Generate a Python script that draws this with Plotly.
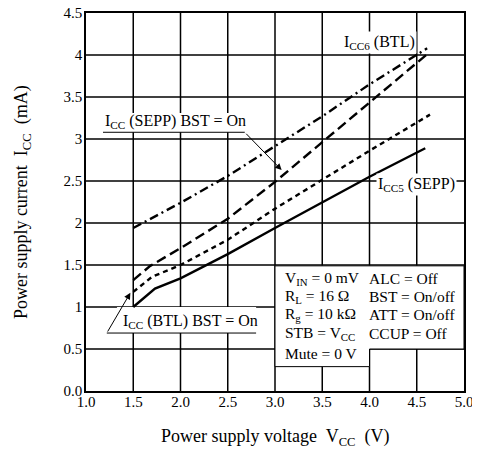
import plotly.graph_objects as go

FONT = "Liberation Serif"

# supply voltage (V) / supply current (mA)
V_SEPP = [1.5, 1.73, 2.0, 2.5, 3.0, 3.5, 4.0, 4.59]
I_SEPP = [1.0, 1.22, 1.34, 1.63, 1.94, 2.24, 2.55, 2.89]

V_BTL_BST = [1.5, 1.7, 2.0, 2.5, 3.0, 3.5, 4.0, 4.64]
I_BTL_BST = [1.18, 1.36, 1.50, 1.80, 2.17, 2.52, 2.86, 3.29]

V_SEPP_BST = [1.5, 1.68, 2.0, 2.5, 3.0, 3.5, 4.0, 4.6]
I_SEPP_BST = [1.32, 1.49, 1.70, 2.05, 2.49, 2.96, 3.43, 4.0]

V_BTL = [1.5, 2.0, 2.5, 3.0, 3.5, 4.0, 4.61]
I_BTL = [1.94, 2.24, 2.56, 2.92, 3.27, 3.65, 4.08]

X_TICKS = [1.0, 1.5, 2.0, 2.5, 3.0, 3.5, 4.0, 4.5, 5.0]
Y_TICKS = [0, 0.5, 1, 1.5, 2, 2.5, 3, 3.5, 4, 4.5]
Y_TICK_TEXT = ["0.0", "0.5", "1", "1.5", "2", "2.5", "3", "3.5", "4", "4.5"]

COND_LEFT = ["V<sub>IN</sub> = 0 mV", "R<sub>L</sub> = 16 Ω", "R<sub>g</sub> = 10 kΩ",
             "STB = V<sub>CC</sub>", "Mute = 0 V"]
COND_RIGHT = ["ALC = Off", "BST = On/off", "ATT = On/off", "CCUP = Off"]
COND_Y = [1.345, 1.12, 0.905, 0.68, 0.45]

X_RANGE = [X_TICKS[0], X_TICKS[-1]]
Y_RANGE = [Y_TICKS[0], Y_TICKS[-1]]

fig = go.Figure()

# grid as line traces, so white label patches (later traces) can cover it
for xv in X_TICKS[1:-1]:
    fig.add_trace(go.Scatter(x=[xv, xv], y=Y_RANGE, mode="lines", hoverinfo="skip",
                             line=dict(color="black", width=1.5)))
for yv in Y_TICKS[1:-1]:
    fig.add_trace(go.Scatter(x=X_RANGE, y=[yv, yv], mode="lines", hoverinfo="skip",
                             line=dict(color="black", width=1.5)))

# white patches behind the leader labels
fig.add_trace(go.Scatter(x=[1.18, 2.68, 2.68, 1.18, 1.18], y=[3.08, 3.08, 3.31, 3.31, 3.08],
                         mode="lines", fill="toself", fillcolor="white",
                         line=dict(width=0, color="white"), hoverinfo="skip"))
fig.add_trace(go.Scatter(x=[1.22, 1.33, 2.80, 2.80, 1.22], y=[0.69, 1.0, 1.0, 0.69, 0.69],
                         mode="lines", fill="toself", fillcolor="white",
                         line=dict(width=0, color="white"), hoverinfo="skip"))
# conditions box (stepped)
fig.add_trace(go.Scatter(x=[3, 5, 5, 4, 4, 3, 3], y=[1.49, 1.49, 0.5, 0.5, 0.29, 0.29, 1.49],
                         mode="lines", fill="toself", fillcolor="white",
                         line=dict(width=1, color="black"), hoverinfo="skip"))

line_w = 2.4
fig.add_trace(go.Scatter(x=V_SEPP, y=I_SEPP, mode="lines",
                         line=dict(color="black", width=line_w)))
fig.add_trace(go.Scatter(x=V_BTL_BST, y=I_BTL_BST, mode="lines",
                         line=dict(color="black", width=line_w, dash="5px,4px")))
fig.add_trace(go.Scatter(x=V_SEPP_BST, y=I_SEPP_BST, mode="lines",
                         line=dict(color="black", width=line_w, dash="10px,5px")))
fig.add_trace(go.Scatter(x=V_BTL, y=I_BTL, mode="lines",
                         line=dict(color="black", width=line_w, dash="9px,4px,2px,4px")))

shapes = [
    # underlines of the leader labels
    dict(type="line", x0=1.18, x1=2.68, y0=3.08, y1=3.08,
         line=dict(color="black", width=1)),
    dict(type="line", x0=1.22, x1=2.80, y0=0.69, y1=0.69,
         line=dict(color="black", width=1)),
]

txt = dict(family=FONT, size=16, color="black")
cond = dict(family=FONT, size=15.5, color="black")
annotations = [
    dict(x=1.18, y=3.21, text="I<sub>CC</sub> (SEPP) BST = On", showarrow=False,
         xanchor="left", yanchor="middle", font=txt),
    dict(x=1.37, y=0.83, text="I<sub>CC</sub> (BTL) BST = On", showarrow=False,
         xanchor="left", yanchor="middle", font=txt),
    dict(x=4.11, y=4.15, text="I<sub>CC6</sub> (BTL)", showarrow=False,
         xanchor="center", yanchor="middle", font=txt, bgcolor="white"),
    dict(x=4.50, y=2.46, text="I<sub>CC5</sub> (SEPP)", showarrow=False,
         xanchor="center", yanchor="middle", font=txt, bgcolor="white"),
    # leader arrows
    dict(x=3.07, y=2.63, ax=2.68, ay=3.08, xref="x", yref="y", axref="x", ayref="y",
         text="", showarrow=True, arrowhead=2, arrowsize=1.3, arrowwidth=1, arrowcolor="black"),
    dict(x=1.47, y=1.17, ax=1.22, ay=0.69, xref="x", yref="y", axref="x", ayref="y",
         text="", showarrow=True, arrowhead=2, arrowsize=1.3, arrowwidth=1, arrowcolor="black"),
    # axis titles
    dict(x=0.5, y=-0.122, xref="paper", yref="paper", showarrow=False,
         text="Power supply voltage  V<sub>CC</sub>  (V)",
         xanchor="center", yanchor="middle", font=dict(family=FONT, size=18)),
    dict(x=-0.169, y=0.5, xref="paper", yref="paper", showarrow=False, textangle=-90,
         text="Power supply current  I<sub>CC</sub>  (mA)",
         xanchor="center", yanchor="middle", font=dict(family=FONT, size=18)),
]
for label, yv in zip(COND_LEFT, COND_Y):
    annotations.append(dict(x=3.08, y=yv, text=label, showarrow=False,
                            xanchor="left", yanchor="middle", font=cond))
for label, yv in zip(COND_RIGHT, COND_Y):
    annotations.append(dict(x=3.97, y=yv, text=label, showarrow=False,
                            xanchor="left", yanchor="middle", font=cond))

# page body has an 8px margin, so the figure is a bit smaller than the window
fig.update_layout(
    width=472, height=448,
    margin=dict(l=78, r=16, t=5, b=65),
    paper_bgcolor="white", plot_bgcolor="white",
    showlegend=False,
    font=dict(family=FONT, size=15, color="black"),
    shapes=shapes,
    annotations=annotations,
)
fig.update_xaxes(
    range=X_RANGE, tickvals=X_TICKS, tickformat=".1f",
    showgrid=False,
    showline=True, mirror=True, linecolor="black", linewidth=1.5,
    ticks="", zeroline=False, automargin=False, ticklabelstandoff=-4,
    ticklabeloverflow="allow",
    tickfont=dict(family=FONT, size=15, color="black"),
)
fig.update_yaxes(
    range=Y_RANGE, tickvals=Y_TICKS, ticktext=Y_TICK_TEXT,
    showgrid=False,
    showline=True, mirror=True, linecolor="black", linewidth=1.5,
    ticks="", zeroline=False, automargin=False, ticklabelstandoff=-1,
    ticklabeloverflow="allow",
    tickfont=dict(family=FONT, size=15, color="black"),
)

fig.write_html("out.html")
